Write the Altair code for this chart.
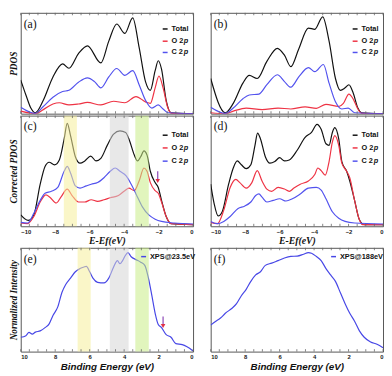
import altair as alt
import pandas as pd

# ---------------- data ----------------
# panel (a)
a_total_x = [-10, -9.70, -9.43, -9.15, -8.69, -8.13, -7.57, -7.20, -6.65, -6.13, -5.35, -4.89, -4.43, -3.96, -3.50, -3.13, -2.76, -2.48, -2.20, -2.02, -1.83, -1.56, -1.28, 0]
a_total_y = [108, 60, 20, 3, 43, 118, 160, 146, 193, 218, 163, 233, 288, 258, 308, 213, 103, 75, 138, 170, 143, 43, 3, 0]
a_c2p_x = [-10, -9.15, -8.69, -8.13, -7.57, -7.20, -6.65, -6.13, -5.72, -5.35, -4.89, -4.43, -3.96, -3.50, -3.13, -2.76, -2.39, -2.02, -1.74, -1.46, 0]
a_c2p_y = [21, 1, 23, 53, 71, 75, 101, 115, 103, 83, 118, 145, 123, 138, 93, 43, 18, 28, 15, 3, 0]
a_o2p_x = [-10, -9.15, -8.69, -8.13, -7.76, -7.20, -6.65, -6.13, -5.35, -4.61, -3.96, -3.31, -2.76, -2.48, -2.20, -1.98, -1.74, -1.46, -1.24, 0]
a_o2p_y = [8, 0, 13, 31, 35, 28, 31, 36, 28, 40, 35, 55, 38, 33, 83, 121, 83, 18, 1, 0]

# panel (b)
b_total_x = [-10, -9.15, -8.69, -8.13, -7.76, -7.30, -6.74, -6.13, -5.72, -5.35, -4.89, -4.33, -3.96, -3.50, -3.13, -2.76, -2.48, -2.20, -1.98, -1.74, -1.46, -1.24, 0]
b_total_y = [113, 3, 33, 98, 123, 113, 168, 210, 188, 151, 208, 275, 271, 311, 233, 113, 75, 83, 93, 68, 18, 3, 0]
b_c2p_x = [-10, -9.15, -8.69, -8.13, -7.76, -7.20, -6.74, -6.13, -5.72, -5.35, -4.89, -4.33, -3.96, -3.46, -3.13, -2.76, -2.39, -2.02, -1.65, 0]
b_c2p_y = [21, 1, 18, 48, 60, 63, 93, 125, 103, 85, 118, 148, 135, 158, 98, 38, 15, 18, 3, 0]
b_o2p_x = [-10, -9.15, -8.69, -7.94, -7.02, -6.09, -5.35, -4.52, -3.87, -3.31, -2.57, -2.30, -1.98, -1.74, -1.46, -1.24, 0]
b_o2p_y = [3, 0, 8, 18, 13, 18, 15, 22, 17, 30, 23, 33, 63, 48, 15, 1, 0]

# panel (c)
c_total_x = [-10, -9.57, -9.24, -8.87, -8.59, -8.35, -8.04, -7.76, -7.48, -7.30, -7.11, -6.83, -6.56, -6.28, -5.94, -5.63, -5.35, -4.98, -4.61, -4.24, -3.91, -3.69, -3.41, -3.22, -3.04, -2.85, -2.67, -2.48, -2.20, -2.02, -1.83, -1.56, -1.28, 0]
c_total_y = [35, 18, 35, 130, 185, 198, 190, 205, 270, 318, 280, 215, 195, 202, 217, 202, 210, 250, 285, 295, 290, 265, 220, 202, 215, 233, 220, 170, 135, 120, 80, 30, 8, 5]
c_c2p_x = [-10, -9.61, -9.24, -8.87, -8.59, -8.22, -7.85, -7.48, -7.30, -7.11, -6.83, -6.56, -6.19, -5.91, -5.54, -5.17, -4.80, -4.52, -4.24, -3.87, -3.59, -3.31, -2.94, -2.57, -2.20, -1.83, -1.09, 0]
c_c2p_y = [12, 10, 40, 80, 102, 108, 120, 170, 185, 165, 125, 118, 125, 130, 135, 150, 170, 180, 170, 155, 130, 100, 60, 35, 22, 15, 10, 7]
c_o2p_x = [-10, -9.61, -9.24, -8.87, -8.54, -8.31, -7.94, -7.67, -7.30, -7.02, -6.65, -6.28, -5.91, -5.54, -5.17, -4.80, -4.33, -3.96, -3.72, -3.41, -3.13, -2.85, -2.67, -2.48, -2.20, -2.02, -1.83, -1.56, -1.28, 0]
c_o2p_y = [10, 8, 30, 75, 97, 90, 72, 90, 115, 95, 75, 75, 82, 77, 82, 88, 95, 110, 118, 110, 140, 180, 170, 135, 110, 102, 75, 30, 8, 5]

# panel (d)
d_total_x = [-10, -9.80, -9.57, -9.33, -8.96, -8.69, -8.46, -8.22, -7.94, -7.67, -7.43, -7.28, -7.11, -6.83, -6.56, -6.28, -6.00, -5.72, -5.44, -4.98, -4.52, -4.15, -3.83, -3.59, -3.31, -3.13, -2.94, -2.80, -2.57, -2.39, -2.11, -1.93, -1.65, -1.37, -1.09, 0]
d_total_y = [130, 70, 32, 45, 130, 180, 202, 190, 178, 190, 250, 288, 270, 215, 195, 200, 212, 202, 205, 235, 275, 290, 315, 300, 255, 250, 290, 305, 270, 200, 170, 140, 80, 20, 5, 5]
d_o2p_x = [-10, -9.61, -9.24, -8.87, -8.54, -8.31, -7.94, -7.61, -7.30, -7.02, -6.74, -6.46, -6.09, -5.72, -5.44, -5.17, -4.80, -4.33, -3.96, -3.78, -3.59, -3.35, -3.13, -2.94, -2.80, -2.57, -2.39, -2.11, -1.93, -1.65, -1.37, -1.19, 0]
d_o2p_y = [12, 8, 50, 120, 145, 135, 118, 135, 172, 140, 115, 108, 120, 115, 108, 118, 130, 140, 160, 180, 172, 158, 200, 260, 280, 250, 195, 170, 150, 80, 20, 5, 5]
d_c2p_x = [-10, -9.61, -9.24, -8.87, -8.41, -8.04, -7.67, -7.39, -7.20, -7.02, -6.74, -6.37, -6.00, -5.63, -5.26, -4.80, -4.33, -3.87, -3.59, -3.31, -2.94, -2.57, -2.20, -1.65, 0]
d_c2p_y = [15, 8, 15, 30, 55, 62, 75, 95, 100, 90, 75, 80, 85, 78, 85, 100, 118, 120, 112, 85, 45, 25, 15, 10, 7]

# panel (e)  XPS@23.5eV  (binding energy)
e_x = [10, 9.70, 9.52, 9.33, 9.15, 8.87, 8.59, 8.35, 8.13, 7.85, 7.61, 7.39, 7.11, 6.83, 6.56, 6.33, 6.19, 6.00, 5.81, 5.54, 5.17, 4.89, 4.61, 4.39, 4.24, 4.09, 3.94, 3.78, 3.59, 3.31, 3.04, 2.80, 2.57, 2.39, 2.20, 2.02, 1.83, 1.56, 1.28, 1.00, 0.63, 0.35, 0]
e_y = [45, 50, 60, 55, 61, 65, 75, 87, 113, 140, 185, 210, 230, 250, 260, 265, 267, 250, 230, 217, 215, 230, 265, 285, 275, 285, 300, 310, 297, 288, 280, 270, 225, 175, 120, 85, 75, 53, 45, 25, 22, 15, 2]

# panel (f)  XPS@188eV
f_x = [10, 9.70, 9.43, 9.15, 8.78, 8.50, 8.22, 7.94, 7.67, 7.39, 7.11, 6.83, 6.46, 6.09, 5.72, 5.35, 4.98, 4.61, 4.33, 4.15, 3.87, 3.59, 3.31, 3.04, 2.76, 2.48, 2.20, 1.93, 1.65, 1.37, 1.09, 0.72, 0.35, 0]
f_y = [83, 95, 105, 120, 135, 150, 175, 195, 220, 240, 250, 270, 277, 285, 293, 298, 299, 305, 310, 308, 298, 285, 260, 240, 220, 185, 150, 120, 95, 65, 45, 30, 23, 12]

# highlighted energy windows
c_band_lo = [-7.50, -4.83, -3.35]
c_band_hi = [-6.74, -3.74, -2.57]
e_band_lo = [5.94, 3.74, 2.57]
e_band_hi = [6.70, 4.83, 3.35]
band_colors = ["#f6ef9a", "#d6d6d6", "#c9ec86"]

# arrows (x, top, bottom)
c_arrow = [-2.05, 170, 140]
e_arrow = [1.74, 110, 80]

series_names = ["Total", "O 2p", "C 2p"]
series_colors = ["#111111", "#ee3344", "#5252ee"]
xps_color = "#4747e6"

pdos_ticks = [-10, -8, -6, -4, -2, 0]
be_ticks = [10, 8, 6, 4, 2, 0]
minor_pdos = [-10, -9.5, -9, -8.5, -8, -7.5, -7, -6.5, -6, -5.5, -5, -4.5, -4, -3.5, -3, -2.5, -2, -1.5, -1, -0.5, 0]
minor_be = [0, 0.5, 1, 1.5, 2, 2.5, 3, 3.5, 4, 4.5, 5, 5.5, 6, 6.5, 7, 7.5, 8, 8.5, 9, 9.5, 10]

W = 176
H1, H2, H3 = 103, 113, 106

SERIF = "Liberation Serif"
SANS = "Liberation Sans"


def pdos_df(tx, ty, ox, oy, cx, cy):
    rows = []
    for name, xs, ys in (("Total", tx, ty), ("O 2p", ox, oy), ("C 2p", cx, cy)):
        for x, y in zip(xs, ys):
            rows.append({"x": x, "y": y, "s": name})
    return pd.DataFrame(rows)


def legend_layers(names, colors, lx, ys):
    """Hand-drawn legend: short coloured stroke + bold label (italic orbital letter)."""
    out = []
    for name, col, yy in zip(names, colors, ys):
        one = pd.DataFrame({"t": [name]})
        out.append(alt.Chart(one).mark_rule(color=col, strokeWidth=1.5).encode(
            x=alt.value(lx), x2=alt.value(lx + 5), y=alt.value(yy)))
        if name.endswith(" 2p"):
            head = name[:-1]
            out.append(alt.Chart(pd.DataFrame({"t": [head]})).mark_text(
                align="left", baseline="middle", font=SANS, fontSize=7.5,
                fontWeight="bold", color="#111").encode(
                x=alt.value(lx + 9), y=alt.value(yy), text="t:N"))
            out.append(alt.Chart(pd.DataFrame({"t": ["p"]})).mark_text(
                align="left", baseline="middle", font=SANS, fontSize=7.5,
                fontWeight="bold", fontStyle="italic", color="#111").encode(
                x=alt.value(lx + 9 + 12.6), y=alt.value(yy), text="t:N"))
        else:
            out.append(alt.Chart(one).mark_text(
                align="left", baseline="middle", font=SANS, fontSize=7.5,
                fontWeight="bold", color="#111").encode(
                x=alt.value(lx + 9), y=alt.value(yy), text="t:N"))
    return out


def panel(df, names, colors, xdom, xrev, ydom, H, ytitle, xtitle, xvals, minor,
          leg_x, leg_ys, label, bands=None, arrow=None):
    xscale = alt.Scale(domain=xdom, reverse=xrev, nice=False, zero=False)
    yscale = alt.Scale(domain=ydom, nice=False, zero=False)
    if xtitle:
        xaxis = alt.Axis(values=xvals, ticks=False, domain=False, grid=False,
                         labelFontSize=6, labelFontWeight="bold", labelFont=SANS,
                         labelPadding=2, labelColor="#222",
                         titleFontSize=10, titleFontWeight="bold", titleFontStyle="italic",
                         titleFont=SANS if xrev else SERIF, titlePadding=2, titleColor="#111")
    else:
        xaxis = None
    if ytitle:
        yaxis = alt.Axis(labels=False, ticks=False, domain=False, grid=False,
                         titleFontSize=9.5, titleFontWeight="bold",
                         titleFontStyle="italic", titleFont=SERIF, titlePadding=2,
                         titleColor="#111")
    else:
        yaxis = None
    xt = xtitle if xtitle else "x"
    yt = ytitle if ytitle else "y"

    def X(field):
        return alt.X(field, scale=xscale, axis=xaxis, title=xt)

    def Y(field):
        return alt.Y(field, scale=yscale, axis=yaxis, title=yt)

    lines = alt.Chart(df).mark_line(strokeWidth=1.2, interpolate="monotone", clip=True).encode(
        x=X("x:Q"),
        y=Y("y:Q"),
        color=alt.Color("s:N", sort=names, scale=alt.Scale(domain=names, range=colors),
                        legend=None),
        detail="s:N",
    )
    layers = [lines]

    if bands is not None:
        lo, hi = bands
        bdf = pd.DataFrame({"x1": lo, "x2": hi, "c": band_colors})
        layers.append(alt.Chart(bdf).mark_rect(opacity=0.55).encode(
            x=X("x1:Q"),
            x2="x2:Q",
            fill=alt.Fill("c:N", scale=None),
        ))

    tdf = pd.DataFrame({"x": minor})
    layers.append(alt.Chart(tdf).mark_rule(color="#666", strokeWidth=0.8).encode(
        x=X("x:Q"), y=alt.value(0), y2=alt.value(2.5)))
    layers.append(alt.Chart(tdf).mark_rule(color="#666", strokeWidth=0.8).encode(
        x=X("x:Q"), y=alt.value(H), y2=alt.value(H - 2.5)))

    if arrow is not None:
        adf = pd.DataFrame({"x": [arrow[0]], "top": [arrow[1]], "bot": [arrow[2]]})
        layers.append(alt.Chart(adf).mark_rule(color="#8a45b5", strokeWidth=1.2).encode(
            x=X("x:Q"), y=Y("top:Q"), y2="bot:Q"))
        layers.append(alt.Chart(adf).mark_point(shape="triangle-down", filled=True, size=22,
                                                color="#e03048", opacity=1).encode(
            x=X("x:Q"), y=Y("bot:Q")))

    layers += legend_layers(names, colors, leg_x, leg_ys)

    ldf = pd.DataFrame({"t": [label]})
    layers.append(alt.Chart(ldf).mark_text(align="left", baseline="middle", font=SERIF,
                                           fontSize=12, color="#111").encode(
        x=alt.value(3), y=alt.value(11), text="t:N"))

    return alt.layer(*layers).properties(width=W, height=H)


pdos_dom = [-10, 0]
be_dom = [0, 10]

pa = panel(pdos_df(a_total_x, a_total_y, a_o2p_x, a_o2p_y, a_c2p_x, a_c2p_y),
           series_names, series_colors, pdos_dom, False, [0, 324], H1,
           "PDOS", None, pdos_ticks, minor_pdos, 145, [16.5, 29, 40.5], "(a)")
pb = panel(pdos_df(b_total_x, b_total_y, b_o2p_x, b_o2p_y, b_c2p_x, b_c2p_y),
           series_names, series_colors, pdos_dom, False, [0, 324], H1,
           None, None, pdos_ticks, minor_pdos, 145, [16.5, 29, 40.5], "(b)")
pc = panel(pdos_df(c_total_x, c_total_y, c_o2p_x, c_o2p_y, c_c2p_x, c_c2p_y),
           series_names, series_colors, pdos_dom, False, [0, 342], H2,
           "Corrected PDOS", "E-Ef(eV)", pdos_ticks, minor_pdos, 145, [20, 33, 46.5], "(c)",
           bands=(c_band_lo, c_band_hi), arrow=c_arrow)
pd_ = panel(pdos_df(d_total_x, d_total_y, d_o2p_x, d_o2p_y, d_c2p_x, d_c2p_y),
            series_names, series_colors, pdos_dom, False, [0, 342], H2,
            None, "E-Ef(eV)", pdos_ticks, minor_pdos, 145, [20, 33, 46.5], "(d)")
pe = panel(pd.DataFrame({"x": e_x, "y": e_y, "s": "XPS@23.5eV"}),
           ["XPS@23.5eV"], [xps_color], be_dom, True, [0, 325], H3,
           "Normalized Intensity", "Binding Energy (eV)", be_ticks, minor_be, 123, [9], "(e)",
           bands=(e_band_lo, e_band_hi), arrow=e_arrow)
pf = panel(pd.DataFrame({"x": f_x, "y": f_y, "s": "XPS@188eV"}),
           ["XPS@188eV"], [xps_color], be_dom, True, [0, 325], H3,
           None, "Binding Energy (eV)", be_ticks, minor_be, 123, [9], "(f)")

chart = alt.concat(pa, pb, pc, pd_, pe, pf, columns=2, align="each",
                   spacing={"row": 0, "column": 14}).resolve_scale(
    x="independent", y="independent", color="independent"
).configure_view(
    stroke="#555", strokeWidth=1
).properties(padding=0, background="white")

chart.save("out.html", embed_options={"renderer": "svg", "actions": False})
